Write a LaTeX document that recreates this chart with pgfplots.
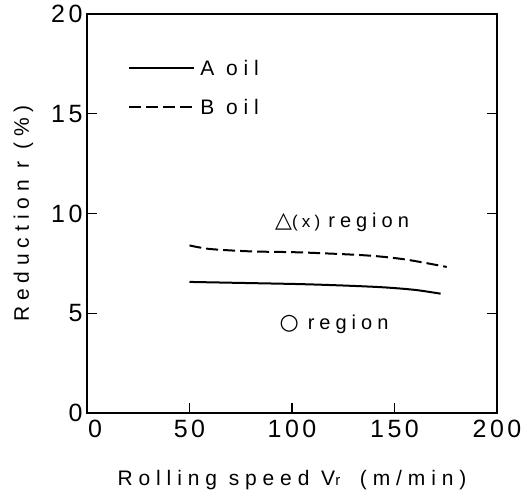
\documentclass[border=0pt]{standalone}
\usepackage{fontspec}
\setmainfont{Liberation Sans}
\newfontfamily\tickfont[LetterSpace=14]{Liberation Sans}
\newfontfamily\labfont[LetterSpace=28]{Liberation Sans}
\newfontfamily\regfont[LetterSpace=25]{Liberation Sans}
\newfontfamily\symfont{DejaVu Sans}
\usepackage{pgfplots}
\pgfplotsset{compat=1.18}
\begin{document}
\begin{tikzpicture}
\begin{axis}[
  name=ax,
  scale only axis,
  width=410pt, height=399pt,
  xmin=0, xmax=200, ymin=0, ymax=20,
  xtick={50,100,150,200},
  extra x ticks={0},
  extra x tick style={major tick length=0pt, xticklabel style={xshift=8pt}},
  ytick={0,5,10,15,20},
  xtick pos=bottom,
  ytick pos=both,
  tick align=inside,
  major tick length=10pt,
  axis line style={line width=1.6pt},
  every tick/.style={line width=1.4pt, black},
  tick label style={font=\tickfont\fontsize{25}{25}\selectfont},
  /pgf/number format/assume math mode=true,
  yticklabel style={xshift=-1pt},
  xticklabel style={yshift=-4pt},
  xlabel={\labfont\fontsize{21}{21}\selectfont Rolling speed V{\fontsize{15}{15}\selectfont r}\hspace{8pt} (m/min)},
  ylabel={\labfont\fontsize{21}{21}\selectfont Reduction r (\%)},
  xlabel style={yshift=-25pt},
  ylabel style={yshift=11pt},
  legend style={draw=none, fill=none, at={(axis cs:18.6,16.3)}, anchor=west,
    font=\labfont\fontsize{21}{21}\selectfont, row sep=20pt,
    nodes={inner sep=1pt},
    /tikz/every odd column/.append style={column sep=4pt}},
  legend cell align=left,
  legend image code/.code={\draw[#1] (0pt,0pt) -- (65pt,0pt);},
]
\addplot[black, line width=2pt, smooth] coordinates {
 (50,6.57) (75,6.52) (104,6.46) (125,6.39) (144.5,6.3) (160,6.17) (172.5,5.98)};
\addlegendentry{A oil}
\addplot[black, line width=2pt, smooth, dash pattern=on 12pt off 5pt] coordinates {
 (50,8.4) (60,8.22) (80,8.1) (104,8.05) (136,7.9) (155,7.7) (175.5,7.32)};
\addlegendentry{B oil}
\node[font=\regfont\fontsize{20}{20}\selectfont] at (axis cs:124.4,9.54)
  {{\symfont\fontsize{22}{22}\selectfont △}{\fontsize{17}{17}\selectfont(x)}\hspace{8pt}region};
\node[font=\regfont\fontsize{20}{20}\selectfont] at (axis cs:120.5,4.43)
  {{\symfont\fontsize{22}{22}\selectfont ○}\hspace{9pt}region};
\end{axis}
\pgfresetboundingbox
\path[use as bounding box] ([xshift=-87pt,yshift=-78pt]ax.south west) rectangle ([xshift=28pt,yshift=14pt]ax.north east);
\end{tikzpicture}
\end{document}
